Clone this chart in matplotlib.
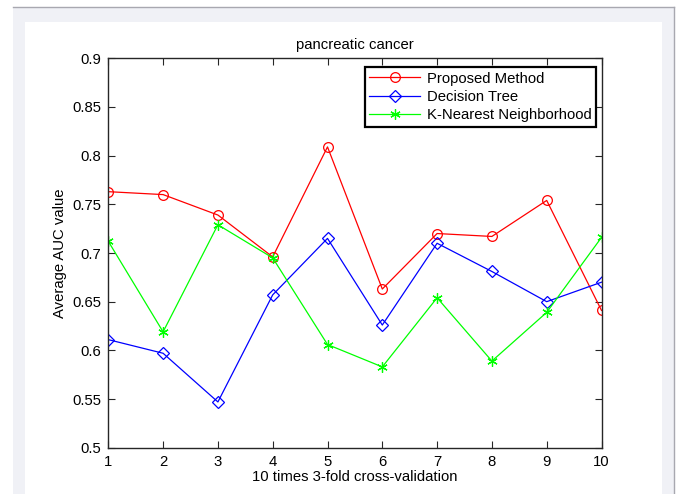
import matplotlib
matplotlib.use("Agg")
import matplotlib.pyplot as plt
from matplotlib.patches import Rectangle
from matplotlib.lines import Line2D

plt.rcParams["font.family"] = ["Liberation Sans", "DejaVu Sans"]

# Datos
folds = [1, 2, 3, 4, 5, 6, 7, 8, 9, 10]
proposed = [0.763, 0.760, 0.739, 0.696, 0.809, 0.663, 0.720, 0.717, 0.754, 0.641]
decision_tree = [0.611, 0.597, 0.547, 0.657, 0.715, 0.626, 0.710, 0.681, 0.650, 0.670]
knn = [0.712, 0.619, 0.729, 0.695, 0.606, 0.583, 0.654, 0.589, 0.639, 0.716]
y_ticks = [0.5, 0.55, 0.6, 0.65, 0.7, 0.75, 0.8, 0.85, 0.9]
y_tick_labels = ["0.5", "0.55", "0.6", "0.65", "0.7", "0.75", "0.8", "0.85", "0.9"]

FS = 10.7

fig = plt.figure(figsize=(6.8, 4.94), dpi=100)

# Marco de la captura (franja gris azulada y panel blanco), por detrás de los ejes
fig.patches.append(Rectangle((13 / 680, 0), 661 / 680, 1 - 7 / 494,
                             transform=fig.transFigure, facecolor="#f0f1f6",
                             edgecolor="none", zorder=-10))
fig.patches.append(Rectangle((25 / 680, 0), 637 / 680, 1 - 22 / 494,
                             transform=fig.transFigure, facecolor="white",
                             edgecolor="none", zorder=-9))
fig.lines.append(Line2D([13 / 680, 674 / 680], [1 - 7 / 494, 1 - 7 / 494],
                        transform=fig.transFigure, color="#a8a8b0", linewidth=1,
                        zorder=-8))
fig.lines.append(Line2D([674 / 680, 674 / 680], [0, 1 - 7 / 494],
                        transform=fig.transFigure, color="#a8a8b0", linewidth=1,
                        zorder=-8))

ax = fig.add_axes([108.3 / 680, 1 - 447.7 / 494, 493.2 / 680, 389.4 / 494])

ax.plot(folds, proposed, color="red", linewidth=0.9, marker="o", markersize=7,
        markerfacecolor="none", markeredgecolor="red", markeredgewidth=0.9,
        label="Proposed Method")
ax.plot(folds, decision_tree, color="blue", linewidth=0.9, marker="D", markersize=6,
        markerfacecolor="none", markeredgecolor="blue", markeredgewidth=0.9,
        label="Decision Tree")
ax.plot(folds, knn, color="#00ff00", linewidth=0.9, marker=(6, 2, 0), markersize=7.5,
        markeredgecolor="#00ff00", markeredgewidth=0.9,
        label="K-Nearest Neighborhood")

ax.set_xlim(1, 10)
ax.set_ylim(0.5, 0.9)
ax.set_xticks(folds)
ax.set_yticks(y_ticks)
ax.set_yticklabels(y_tick_labels)
ax.tick_params(direction="in", top=True, right=True, length=5, width=0.8,
               labelsize=FS, color="#262626", pad=5)
for s in ax.spines.values():
    s.set_color("#262626")
    s.set_linewidth(1.0)

ax.set_title("pancreatic cancer", fontsize=FS, pad=7)
ax.set_xlabel("10 times 3-fold cross-validation", fontsize=FS, labelpad=1)
ax.set_ylabel("Average AUC value", fontsize=FS, labelpad=4)

leg = ax.legend(loc="upper right", bbox_to_anchor=(0.989, 0.978), borderaxespad=0,
                fontsize=FS, handlelength=3.4, labelspacing=0.28, fancybox=False,
                framealpha=1, edgecolor="black", borderpad=0.32, handletextpad=0.45)
leg.get_frame().set_linewidth(1.6)

fig.savefig("out.png", dpi=100)
